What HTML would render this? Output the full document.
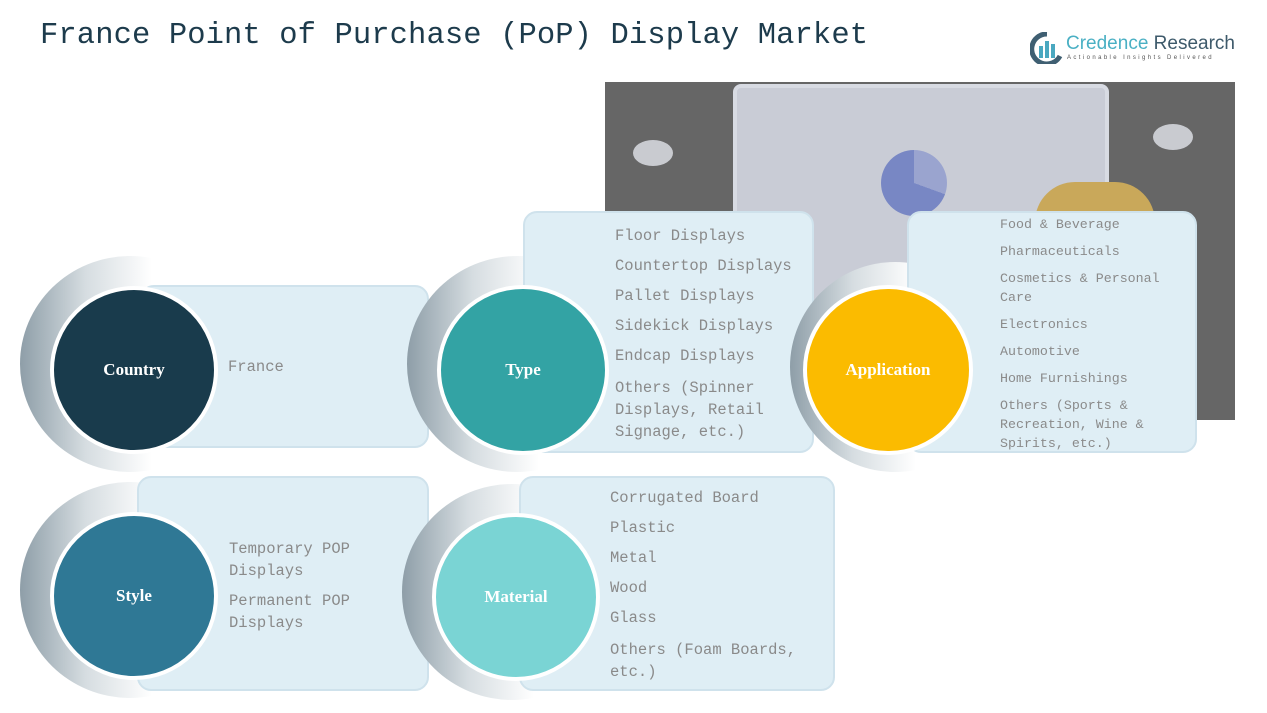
<!DOCTYPE html>
<html><head><meta charset="utf-8"><style>
body{margin:0;width:1267px;height:713px;background:#fff;position:relative;overflow:hidden;font-family:"Liberation Mono","Noto Sans CJK SC",monospace}
.t{position:absolute;left:40px;top:19px;font-size:30.5px;color:#1d3b4c;font-family:"Liberation Mono",monospace;letter-spacing:0.1px}
.ring{position:absolute;border-radius:50%;background:linear-gradient(90deg,#8e9ea8 0%,#d6dde1 30%,#fff 60%)}
.c{position:absolute;border-radius:50%;border:4px solid #fff;box-sizing:border-box;color:#fff;font-weight:bold;font-family:"Liberation Serif",serif;font-size:17px;display:flex;align-items:center;justify-content:center}
.p{position:absolute;background:#dfeef5;border:2px solid #cfe2ec;border-radius:14px;box-sizing:border-box}
.tx{position:absolute;color:#8a8a8a;font-size:15.5px;line-height:19px}
.tx div{margin-bottom:11px}
</style></head><body>
<div class="t">France Point of Purchase (PoP) Display Market</div>
<svg style="position:absolute;left:1030px;top:32px" width="34" height="32"><path d="M17 2a15 15 0 1 0 13 22" stroke="#3f5f72" stroke-width="5" fill="none"/><rect x="9" y="14" width="4" height="12" fill="#4aa8c0"/><rect x="15" y="9" width="4" height="17" fill="#4aa8c0"/><rect x="21" y="12" width="4" height="14" fill="#4aa8c0"/></svg>
<div style="position:absolute;left:1066px;top:33px;font-family:'Liberation Sans',sans-serif;font-size:19px;color:#4ab0c4">Credence <span style="color:#3e5a6b">Research</span></div>
<div style="position:absolute;left:1067px;top:55px;font-family:'Liberation Sans',sans-serif;font-size:6px;letter-spacing:2.4px;color:#555">Actionable Insights Delivered</div>

<div style="position:absolute;left:605px;top:82px;width:630px;height:338px;background:#666">
 <div style="position:absolute;left:128px;top:2px;width:368px;height:330px;background:#c9ccd6;border:4px solid #d8dbe3;border-radius:8px"></div>
 <div style="position:absolute;left:276px;top:68px;width:66px;height:66px;border-radius:50%;background:conic-gradient(#9aa4cf 0 110deg,#7887c4 110deg 360deg)"></div>
 <div style="position:absolute;left:100px;top:140px;width:60px;height:120px;background:#6f80c0;border-radius:30px 30px 0 0"></div>
 <div style="position:absolute;left:430px;top:100px;width:120px;height:50px;background:#c9a85a;border-radius:40px 40px 0 0"></div>
 <div style="position:absolute;left:28px;top:58px;width:40px;height:26px;background:#c9cbd0;border-radius:50%"></div>
 <div style="position:absolute;left:548px;top:42px;width:40px;height:26px;background:#c9cbd0;border-radius:50%"></div>
</div>

<div class="ring" style="left:20px;top:256px;width:220px;height:216px"></div>
<div class="p" style="left:140px;top:285px;width:289px;height:163px"></div>
<div class="c" style="left:50px;top:286px;width:168px;height:168px;background:#193b4c">Country</div>
<div class="tx" style="left:228px;top:358px">France</div>

<div class="ring" style="left:407px;top:256px;width:220px;height:216px"></div>
<div class="p" style="left:523px;top:211px;width:291px;height:242px"></div>
<div class="c" style="left:437px;top:285px;width:172px;height:170px;background:#33a3a4">Type</div>
<div class="tx" style="left:615px;top:227px"><div>Floor Displays</div><div>Countertop Displays</div><div>Pallet Displays</div><div>Sidekick Displays</div><div>Endcap Displays</div><div style="line-height:22px">Others (Spinner<br>Displays, Retail<br>Signage, etc.)</div></div>

<div class="ring" style="left:790px;top:262px;width:210px;height:210px"></div>
<div class="p" style="left:907px;top:211px;width:290px;height:242px"></div>
<div class="c" style="left:803px;top:285px;width:170px;height:170px;background:#fbbb00">Application</div>
<div class="tx" style="left:1000px;top:215px;font-size:13.3px;line-height:19px"><div style="margin-bottom:8px">Food &amp; Beverage</div><div style="margin-bottom:8px">Pharmaceuticals</div><div style="margin-bottom:8px">Cosmetics &amp; Personal<br>Care</div><div style="margin-bottom:8px">Electronics</div><div style="margin-bottom:8px">Automotive</div><div style="margin-bottom:8px">Home Furnishings</div><div>Others (Sports &amp;<br>Recreation, Wine &amp;<br>Spirits, etc.)</div></div>

<div class="ring" style="left:20px;top:482px;width:220px;height:216px"></div>
<div class="p" style="left:137px;top:476px;width:292px;height:215px"></div>
<div class="c" style="left:50px;top:512px;width:168px;height:168px;background:#2f7895">Style</div>
<div class="tx" style="left:229px;top:538px;line-height:22px"><div style="margin-bottom:8px">Temporary POP<br>Displays</div><div>Permanent POP<br>Displays</div></div>

<div class="ring" style="left:402px;top:484px;width:220px;height:216px"></div>
<div class="p" style="left:519px;top:476px;width:316px;height:215px"></div>
<div class="c" style="left:432px;top:513px;width:168px;height:168px;background:#7ad4d4">Material</div>
<div class="tx" style="left:610px;top:489px"><div>Corrugated Board</div><div>Plastic</div><div>Metal</div><div>Wood</div><div>Glass</div><div style="line-height:22px">Others (Foam Boards,<br>etc.)</div></div>
</body></html>
